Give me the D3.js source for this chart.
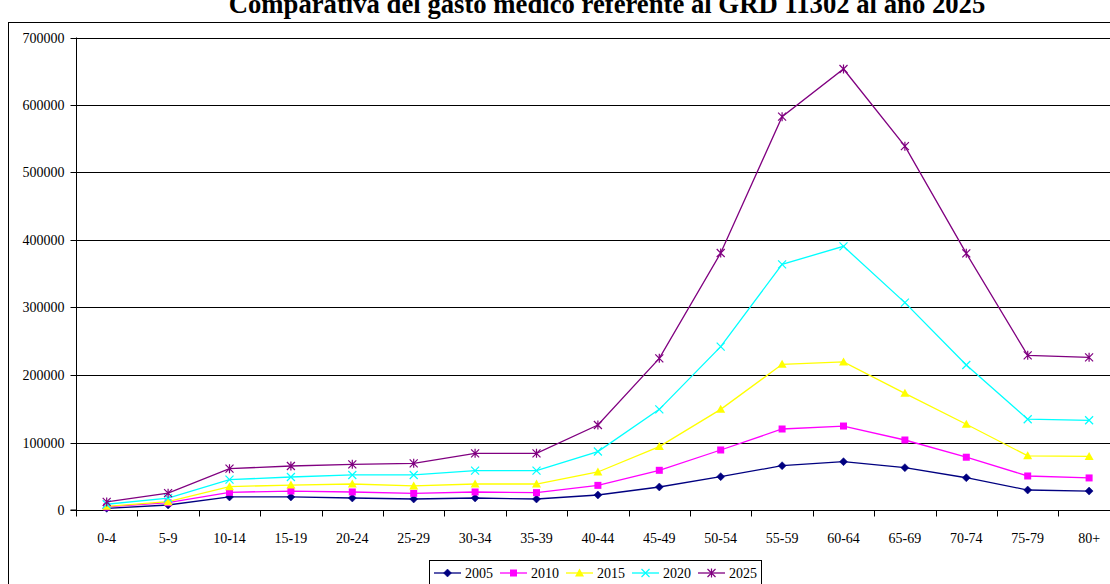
<!DOCTYPE html>
<html><head><meta charset="utf-8">
<script src="https://cdn.jsdelivr.net/npm/d3@7"></script>
<style>
html,body{margin:0;padding:0;background:#fff;overflow:hidden}
svg text{font-family:"Liberation Serif","Times New Roman",serif !important;fill:#000}
</style></head>
<body>
<script>
const categories = ["0-4","5-9","10-14","15-19","20-24","25-29","30-34","35-39","40-44","45-49","50-54","55-59","60-64","65-69","70-74","75-79","80+"];
const yTicks = [0,100000,200000,300000,400000,500000,600000,700000];
const s2005 = [2500,7400,19300,19300,17800,16300,17800,16300,22200,34100,49400,65600,71600,62700,47800,29600,28100];
const s2010 = [4500,10800,26200,28100,26700,24700,26700,25700,36500,58800,88900,120000,124400,103700,78200,50400,47500];
const s2015 = [5500,12300,34600,37000,38500,35600,38500,38500,56300,94000,149100,215800,219300,172800,127000,80200,79300];
const s2020 = [8500,17700,45000,48900,51900,51900,58300,58300,86600,149100,242000,364000,390600,307200,214800,134500,132900];
const s2025 = [12000,25000,61200,65200,67700,69100,84000,84000,125900,224700,380700,582700,653300,539000,380200,229100,226200];
const seriesNames = ["2005","2010","2015","2020","2025"];
const title = "Comparativa del gasto médico referente al GRD 11302 al año 2025";

const series = [
  {name:"2005", values:s2005, color:"#000080", marker:"diamond"},
  {name:"2010", values:s2010, color:"#FF00FF", marker:"square"},
  {name:"2015", values:s2015, color:"#FFFF00", marker:"triangle"},
  {name:"2020", values:s2020, color:"#00FFFF", marker:"x"},
  {name:"2025", values:s2025, color:"#800080", marker:"star"}
];

const FONT = "'Liberation Serif','Times New Roman',serif";
const W = 1110, H = 584;
const svg = d3.select("body").append("svg").attr("width",W).attr("height",H);

// outer border
svg.append("rect").attr("x",8.5).attr("y",22.5).attr("width",1200).attr("height",700)
  .attr("fill","none").attr("stroke","#000").attr("stroke-width",1);

svg.append("text").attr("x",607).attr("y",13).attr("text-anchor","middle")
  .attr("font-family",FONT).attr("font-weight","bold").attr("font-size","26.7px").text(title);

const left = 76, step = 61.4;
const x = d3.scaleBand().domain(categories).range([left, left + step*categories.length]).padding(0);
const y = d3.scaleLinear().domain([0,700000]).range([510,37.5]);

// gridlines
svg.append("g").selectAll("line").data(yTicks.slice(1)).join("line")
  .attr("x1",left).attr("x2",W).attr("y1",d=>Math.round(y(d))+0.5).attr("y2",d=>Math.round(y(d))+0.5)
  .attr("stroke","#000").attr("stroke-width",1);

// y axis
const yAxis = d3.axisLeft(y).tickValues(yTicks).tickSize(6).tickPadding(6).tickFormat(d3.format("d"));
const gy = svg.append("g").attr("transform",`translate(${left+0.5},0)`).call(yAxis)
  .attr("font-family",FONT).attr("font-size",14);
gy.selectAll("text").attr("font-size","14px").attr("font-family",FONT);
gy.selectAll("line,path").attr("stroke","#000");
gy.select(".domain").attr("d",`M-6,${y(0)}H0V${y(700000)}`);
gy.selectAll(".tick").attr("transform",d=>`translate(0,${Math.round(y(d))+0.5})`);

// x axis
const gx = svg.append("g").attr("transform",`translate(0,${Math.round(y(0))+0.5})`);
gx.append("line").attr("x1",left).attr("x2",W).attr("stroke","#000");
const bounds = categories.map(c=>x(c)).concat([x(categories[categories.length-1])+x.bandwidth()]);
gx.selectAll("line.tk").data(bounds).join("line").attr("class","tk")
  .attr("x1",d=>Math.round(d)+0.5).attr("x2",d=>Math.round(d)+0.5).attr("y1",0).attr("y2",6).attr("stroke","#000");
gx.selectAll("text").data(categories).join("text")
  .attr("x",d=>x(d)+x.bandwidth()/2).attr("y",32).attr("text-anchor","middle")
  .attr("font-family",FONT).attr("font-size","14px").text(d=>d);

// markers
function drawMarker(g, type, color, cx, cy){
  if(type==="diamond"){
    g.append("path").attr("d",`M${cx},${cy-4}L${cx+4},${cy}L${cx},${cy+4}L${cx-4},${cy}Z`).attr("fill",color).attr("stroke",color).attr("stroke-width",0.5);
  } else if(type==="square"){
    g.append("rect").attr("x",cx-3.5).attr("y",cy-3.5).attr("width",7).attr("height",7).attr("fill",color);
  } else if(type==="triangle"){
    g.append("path").attr("d",`M${cx},${cy-4.5}L${cx+4.5},${cy+3.5}L${cx-4.5},${cy+3.5}Z`).attr("fill",color);
  } else if(type==="x"){
    g.append("path").attr("d",`M${cx-4},${cy-4}L${cx+4},${cy+4}M${cx-4},${cy+4}L${cx+4},${cy-4}`).attr("stroke",color).attr("stroke-width",1.2);
  } else if(type==="star"){
    g.append("path").attr("d",`M${cx-4},${cy-4}L${cx+4},${cy+4}M${cx-4},${cy+4}L${cx+4},${cy-4}M${cx},${cy-4.5}L${cx},${cy+4.5}`).attr("stroke",color).attr("stroke-width",1.2);
  }
}

const line = d3.line().x((d,i)=>x(categories[i])+x.bandwidth()/2).y(d=>y(d));
series.forEach(s=>{
  const g = svg.append("g");
  g.append("path").attr("d",line(s.values)).attr("fill","none").attr("stroke",s.color).attr("stroke-width",1.3);
  s.values.forEach((v,i)=>drawMarker(g, s.marker, s.color, x(categories[i])+x.bandwidth()/2, y(v)));
});

// legend
const lg = svg.append("g");
lg.append("rect").attr("x",429.5).attr("y",560.5).attr("width",332).attr("height",40).attr("fill","#fff").attr("stroke","#000");
seriesNames.forEach((n,i)=>{
  const s = series[i];
  const x0 = 434 + i*66;
  lg.append("line").attr("x1",x0).attr("x2",x0+27).attr("y1",573).attr("y2",573).attr("stroke",s.color).attr("stroke-width",1.3);
  drawMarker(lg, s.marker, s.color, x0+13.5, 573);
  lg.append("text").attr("x",x0+31).attr("y",578).attr("font-family",FONT).attr("font-size","14px").text(n);
});
</script>
</body></html>
